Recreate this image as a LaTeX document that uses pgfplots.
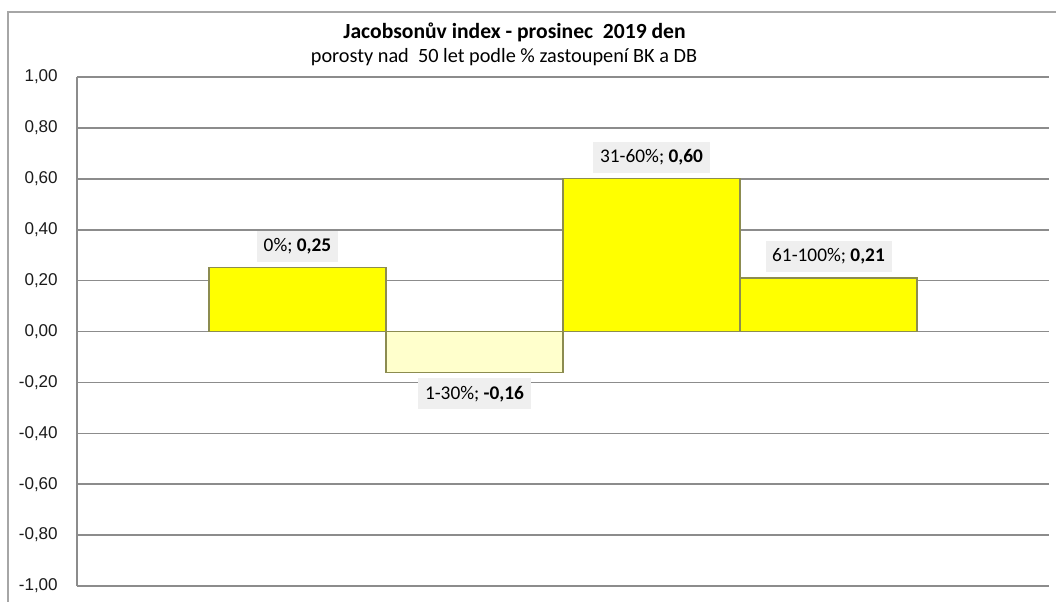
\documentclass[border=0pt]{standalone}
\usepackage{pgfplots}
\pgfplotsset{compat=1.18}
\usepackage{fontspec}
\setmainfont{Carlito}
\newfontfamily\arialfont{Liberation Sans}
\definecolor{barY}{HTML}{FFFF00}
\definecolor{barL}{HTML}{FFFFCC}
\definecolor{barEdge}{HTML}{8C8C50}
\definecolor{gridc}{HTML}{8C8C8C}
\definecolor{lblbg}{HTML}{EFEFEF}
\definecolor{framec}{HTML}{A6A6A6}
\definecolor{tickc}{HTML}{1A1A1A}
\tikzset{
  lblup/.style={font=\fontsize{14.5}{17}\selectfont, fill=lblbg, inner xsep=5pt, inner ysep=5.8pt, anchor=south, yshift=4pt, text=black},
  lbldown/.style={font=\fontsize{14.5}{17}\selectfont, fill=lblbg, inner xsep=5pt, inner ysep=5.8pt, anchor=north, yshift=-4pt, text=black},
}
\pgfplotsset{mybar/.style={ybar, bar width=1, bar shift=0pt, draw=barEdge, line width=0.9pt}}
\begin{document}
\begin{tikzpicture}[x=1pt,y=1pt]
\useasboundingbox (0,0) rectangle (792,450.75);
\clip (0,0) rectangle (792,450.75);
\draw[framec, line width=1.1pt] (6,-20) rectangle (820,441.75);
\begin{axis}[
  at={(57.75pt,11.25pt)}, anchor=south west,
  scale only axis, width=729pt, height=381.75pt,
  xmin=-1.2458, xmax=4.2458, ymin=-1, ymax=1,
  ytick={-1,-0.8,-0.6,-0.4,-0.2,0,0.2,0.4,0.6,0.8,1},
  xtick=\empty,
  axis lines*=left,
  axis line style={gridc, line width=1.8pt},
  ymajorgrids, grid style={gridc, line width=1.2pt},
  major tick length=0pt,
  yticklabel style={font=\arialfont\fontsize{12.8}{14}\selectfont, anchor=east, inner sep=0pt, xshift=-14.25pt, text=tickc},
  /pgf/number format/fixed,
  /pgf/number format/fixed zerofill,
  /pgf/number format/precision=2,
  /pgf/number format/use comma,
  /pgf/number format/assume math mode=true,
]
\addplot[mybar, fill=barY, nodes near coords={0\%; \textbf{0,25}}, every node near coord/.style={lblup}]
  coordinates {(0,0.25)};
\addplot[mybar, fill=barL, nodes near coords={1-30\%; \textbf{-0,16}}, every node near coord/.style={lbldown}]
  coordinates {(1,-0.16)};
\addplot[mybar, fill=barY, nodes near coords={31-60\%; \textbf{0,60}}, every node near coord/.style={lblup}]
  coordinates {(2,0.60)};
\addplot[mybar, fill=barY, nodes near coords={61-100\%; \textbf{0,21}}, every node near coord/.style={lblup}]
  coordinates {(3,0.21)};
\end{axis}
\node[anchor=base, font=\bfseries\fontsize{16.2}{19}\selectfont] at (385.9,422) {Jacobsonův index - prosinec~ 2019 den};
\node[anchor=base, font=\fontsize{15.2}{18}\selectfont] at (378,403.5) {porosty nad~ 50 let podle \% zastoupení BK a DB};
\end{tikzpicture}
\end{document}
